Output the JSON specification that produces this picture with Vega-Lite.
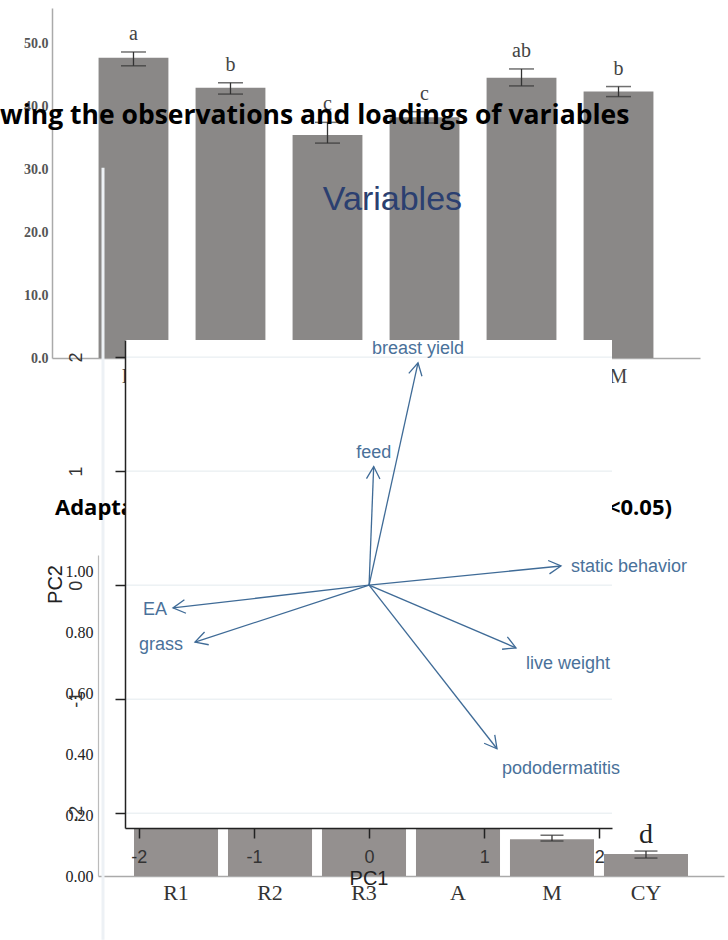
{
  "$schema": "https://vega.github.io/schema/vega-lite/v6.json",
  "width": 487,
  "height": 488,
  "autosize": {"type": "none"},
  "padding": {"left": 125, "top": 340, "right": 116, "bottom": 112},
  "background": "white",
  "config": {"view": {"stroke": null}},
  "layer": [
    {
      "data": {"values": [
        {"group": "R1", "value": 47.8, "lo": 46.5, "hi": 48.7, "letter": "a"},
        {"group": "R2", "value": 43.0, "lo": 42.0, "hi": 43.8, "letter": "b"},
        {"group": "R3", "value": 35.5, "lo": 34.2, "hi": 37.5, "letter": "c"},
        {"group": "A", "value": 38.3, "lo": 37.4, "hi": 39.2, "letter": "c"},
        {"group": "CY", "value": 44.6, "lo": 43.3, "hi": 46.0, "letter": "ab"},
        {"group": "M", "value": 42.4, "lo": 41.6, "hi": 43.2, "letter": "b"}
      ]},
      "layer": [
        {
          "mark": {"type": "bar", "color": "#8a8887"},
          "encoding": {
            "x": {"field": "group", "type": "nominal",
              "scale": {"domain": ["R1", "R2", "R3", "A", "CY", "M"], "range": [-73, 575], "paddingInner": 0.28, "paddingOuter": 0.48},
              "axis": {"orient": "bottom", "offset": -470, "title": null, "domainColor": "#aaaaaa", "domainWidth": 1.5, "ticks": false, "labelAngle": 0, "labelFont": "Liberation Serif", "labelFontSize": 20, "labelColor": "#444444", "labelPadding": 8, "grid": false}},
            "y": {"field": "value", "type": "quantitative",
              "scale": {"domain": [0, 55.7], "range": [18, -332], "nice": false, "zero": true},
              "axis": {"orient": "left", "offset": 73, "title": null, "values": [0, 10, 20, 30, 40, 50], "format": ".1f", "domainColor": "#aaaaaa", "domainWidth": 1.5, "ticks": false, "labelFont": "Liberation Serif", "labelFontWeight": "bold", "labelFontSize": 14, "labelColor": "#555555", "labelPadding": 4, "labelFlush": false, "labelOverlap": false, "grid": false}}
          }
        },
        {
          "mark": {"type": "rule", "color": "#333333", "strokeWidth": 1.3},
          "encoding": {
            "x": {"field": "group", "type": "nominal"},
            "y": {"field": "lo", "type": "quantitative"},
            "y2": {"field": "hi"}
          }
        },
        {
          "mark": {"type": "tick", "color": "#333333", "size": 25, "thickness": 1.5},
          "encoding": {
            "x": {"field": "group", "type": "nominal"},
            "y": {"field": "hi", "type": "quantitative"}
          }
        },
        {
          "mark": {"type": "tick", "color": "#333333", "size": 25, "thickness": 1.5},
          "encoding": {
            "x": {"field": "group", "type": "nominal"},
            "y": {"field": "lo", "type": "quantitative"}
          }
        },
        {
          "mark": {"type": "text", "font": "Liberation Serif", "fontSize": 20, "color": "#444444", "baseline": "alphabetic", "dy": -12},
          "encoding": {
            "x": {"field": "group", "type": "nominal"},
            "y": {"field": "hi", "type": "quantitative"},
            "text": {"field": "letter"}
          }
        }
      ]
    },
    {
      "data": {"values": [
        {"group": "R1", "value": 0.62, "lo": 0.60, "hi": 0.64, "letter": ""},
        {"group": "R2", "value": 0.48, "lo": 0.46, "hi": 0.50, "letter": ""},
        {"group": "R3", "value": 0.40, "lo": 0.38, "hi": 0.42, "letter": ""},
        {"group": "A", "value": 0.55, "lo": 0.53, "hi": 0.57, "letter": ""},
        {"group": "M", "value": 0.121, "lo": 0.115, "hi": 0.134, "letter": ""},
        {"group": "CY", "value": 0.072, "lo": 0.059, "hi": 0.082, "letter": "d"}
      ]},
      "layer": [
        {
          "mark": {"type": "bar", "color": "#94908f"},
          "encoding": {
            "x": {"field": "group", "type": "nominal",
              "scale": {"domain": ["R1", "R2", "R3", "A", "M", "CY"], "range": [-27, 599], "paddingInner": 0.106, "paddingOuter": 0.383},
              "axis": {"orient": "bottom", "offset": 48, "title": null, "domainColor": "#aaaaaa", "domainWidth": 1.5, "ticks": false, "labelAngle": 0, "labelFont": "Liberation Serif", "labelFontSize": 22, "labelColor": "#333333", "labelPadding": 6, "grid": false}},
            "y": {"field": "value", "type": "quantitative",
              "scale": {"domain": [0, 1.055], "range": [536, 215], "nice": false, "zero": true},
              "axis": {"orient": "left", "offset": 27, "title": null, "values": [0, 0.2, 0.4, 0.6, 0.8, 1.0], "format": ".2f", "domainColor": "#bbbbbb", "domainWidth": 1.2, "ticks": false, "labelFont": "Liberation Serif", "labelFontSize": 16, "labelColor": "#222222", "labelPadding": 5, "labelFlush": false, "labelOverlap": false, "grid": false}}
          }
        },
        {
          "mark": {"type": "rule", "color": "#333333", "strokeWidth": 1.3},
          "encoding": {
            "x": {"field": "group", "type": "nominal"},
            "y": {"field": "lo", "type": "quantitative"},
            "y2": {"field": "hi"}
          }
        },
        {
          "mark": {"type": "tick", "color": "#333333", "size": 23, "thickness": 1.5},
          "encoding": {
            "x": {"field": "group", "type": "nominal"},
            "y": {"field": "hi", "type": "quantitative"}
          }
        },
        {
          "mark": {"type": "tick", "color": "#333333", "size": 23, "thickness": 1.5},
          "encoding": {
            "x": {"field": "group", "type": "nominal"},
            "y": {"field": "lo", "type": "quantitative"}
          }
        },
        {
          "mark": {"type": "text", "font": "Liberation Serif", "fontSize": 28, "color": "#222222", "baseline": "alphabetic", "dy": -8},
          "encoding": {
            "x": {"field": "group", "type": "nominal"},
            "y": {"field": "hi", "type": "quantitative"},
            "text": {"field": "letter"}
          }
        }
      ]
    },
    {
      "data": {"values": [
        {"var": "breast yield", "x": 0.425, "y": 1.95},
        {"var": "feed", "x": 0.04, "y": 1.04},
        {"var": "static behavior", "x": 1.667, "y": 0.168},
        {"var": "live weight", "x": 1.276, "y": -0.55},
        {"var": "pododermatitis", "x": 1.111, "y": -1.435},
        {"var": "EA", "x": -1.703, "y": -0.20},
        {"var": "grass", "x": -1.512, "y": -0.50}
      ]},
      "layer": [
        {
          "data": {"values": [{}]},
          "mark": {"type": "rule", "color": "#edf1f5", "strokeWidth": 3},
          "encoding": {
            "x": {"datum": -2.311, "type": "quantitative"},
            "y": {"datum": 3.66, "type": "quantitative"},
            "y2": {"datum": -3.11}
          }
        },
        {
          "data": {"values": [{}]},
          "mark": {"type": "text", "text": "Adaptability", "font": "Open Sans", "fontWeight": "bold", "fontSize": 22, "color": "#000000", "align": "left", "baseline": "alphabetic"},
          "encoding": {
            "x": {"datum": -2.728, "type": "quantitative"},
            "y": {"datum": 0.616, "type": "quantitative"}
          }
        },
        {
          "data": {"values": [{}]},
          "mark": {"type": "text", "text": "(P<0.05)", "font": "Open Sans", "fontWeight": "bold", "fontSize": 22, "color": "#000000", "align": "right", "baseline": "alphabetic"},
          "encoding": {
            "x": {"datum": 2.631, "type": "quantitative"},
            "y": {"datum": 0.616, "type": "quantitative"}
          }
        },
        {
          "data": {"values": [{}]},
          "mark": {"type": "rect", "color": "white"},
          "encoding": {
            "x": {"datum": -2.12, "type": "quantitative"},
            "x2": {"datum": 2.11},
            "y": {"datum": -2.13, "type": "quantitative"},
            "y2": {"datum": 2.15}
          }
        },
        {
          "data": {"values": [{"v": -2}, {"v": -1}, {"v": 0}, {"v": 1}, {"v": 2}]},
          "mark": {"type": "rule", "color": "#e3eaee", "strokeWidth": 1},
          "encoding": {
            "y": {"field": "v", "type": "quantitative"},
            "x": {"datum": -2.12, "type": "quantitative"},
            "x2": {"datum": 2.11}
          }
        },
        {
          "mark": {"type": "rule", "color": "#3f6b97", "strokeWidth": 1.3},
          "encoding": {
            "x": {"field": "x", "type": "quantitative",
              "scale": {"domain": [-2.12, 2.11], "nice": false, "zero": false},
              "axis": {"orient": "bottom", "offset": 0, "values": [-2, -1, 0, 1, 2], "labelExpr": "'' + datum.value", "title": "PC1", "titleFont": "Liberation Sans", "titleFontSize": 20, "titleFontWeight": "normal", "titleColor": "#222222", "titlePadding": 2, "domainColor": "#222222", "domainWidth": 1.5, "tickColor": "#222222", "tickSize": 10, "tickWidth": 1.5, "labelAngle": 0, "labelFont": "Liberation Sans", "labelFontSize": 18, "labelColor": "#333333", "labelPadding": 10, "labelFlush": false, "labelOverlap": false, "grid": false, "zindex": 1}},
            "y": {"field": "y", "type": "quantitative",
              "scale": {"domain": [-2.13, 2.15], "nice": false, "zero": false},
              "axis": {"orient": "left", "offset": 0, "values": [-2, -1, 0, 1, 2], "labelExpr": "'' + datum.value", "title": "PC2", "titleFont": "Liberation Sans", "titleFontSize": 20, "titleFontWeight": "normal", "titleColor": "#222222", "titlePadding": 2, "domainColor": "#222222", "domainWidth": 1.5, "tickColor": "#222222", "tickSize": 10, "tickWidth": 1.5, "labelAngle": -90, "labelFont": "Liberation Sans", "labelFontSize": 18, "labelColor": "#333333", "labelPadding": 30, "labelFlush": false, "labelOverlap": false, "grid": false, "zindex": 1}},
            "x2": {"datum": 0},
            "y2": {"datum": 0}
          }
        },
        {
          "transform": [{"filter": "datum.var === 'breast yield'"}],
          "mark": {"type": "point", "shape": "M -1 -0.55 L 0 0 L -1 0.55", "filled": false, "stroke": "#3f6b97", "strokeWidth": 1.3, "size": 600, "opacity": 1, "angle": -77.6},
          "encoding": {"x": {"field": "x", "type": "quantitative"}, "y": {"field": "y", "type": "quantitative"}}
        },
        {
          "transform": [{"filter": "datum.var === 'feed'"}],
          "mark": {"type": "point", "shape": "M -1 -0.55 L 0 0 L -1 0.55", "filled": false, "stroke": "#3f6b97", "strokeWidth": 1.3, "size": 600, "opacity": 1, "angle": -87.8},
          "encoding": {"x": {"field": "x", "type": "quantitative"}, "y": {"field": "y", "type": "quantitative"}}
        },
        {
          "transform": [{"filter": "datum.var === 'static behavior'"}],
          "mark": {"type": "point", "shape": "M -1 -0.55 L 0 0 L -1 0.55", "filled": false, "stroke": "#3f6b97", "strokeWidth": 1.3, "size": 600, "opacity": 1, "angle": -5.7},
          "encoding": {"x": {"field": "x", "type": "quantitative"}, "y": {"field": "y", "type": "quantitative"}}
        },
        {
          "transform": [{"filter": "datum.var === 'live weight'"}],
          "mark": {"type": "point", "shape": "M -1 -0.55 L 0 0 L -1 0.55", "filled": false, "stroke": "#3f6b97", "strokeWidth": 1.3, "size": 600, "opacity": 1, "angle": 23.1},
          "encoding": {"x": {"field": "x", "type": "quantitative"}, "y": {"field": "y", "type": "quantitative"}}
        },
        {
          "transform": [{"filter": "datum.var === 'pododermatitis'"}],
          "mark": {"type": "point", "shape": "M -1 -0.55 L 0 0 L -1 0.55", "filled": false, "stroke": "#3f6b97", "strokeWidth": 1.3, "size": 600, "opacity": 1, "angle": 52.0},
          "encoding": {"x": {"field": "x", "type": "quantitative"}, "y": {"field": "y", "type": "quantitative"}}
        },
        {
          "transform": [{"filter": "datum.var === 'EA'"}],
          "mark": {"type": "point", "shape": "M -1 -0.55 L 0 0 L -1 0.55", "filled": false, "stroke": "#3f6b97", "strokeWidth": 1.3, "size": 600, "opacity": 1, "angle": 173.4},
          "encoding": {"x": {"field": "x", "type": "quantitative"}, "y": {"field": "y", "type": "quantitative"}}
        },
        {
          "transform": [{"filter": "datum.var === 'grass'"}],
          "mark": {"type": "point", "shape": "M -1 -0.55 L 0 0 L -1 0.55", "filled": false, "stroke": "#3f6b97", "strokeWidth": 1.3, "size": 600, "opacity": 1, "angle": 161.9},
          "encoding": {"x": {"field": "x", "type": "quantitative"}, "y": {"field": "y", "type": "quantitative"}}
        },
        {
          "transform": [{"filter": "datum.var === 'breast yield' || datum.var === 'feed'"}],
          "mark": {"type": "text", "font": "Liberation Sans", "fontSize": 18, "color": "#4a719a", "align": "center", "baseline": "bottom", "dy": -5},
          "encoding": {
            "x": {"field": "x", "type": "quantitative"},
            "y": {"field": "y", "type": "quantitative"},
            "text": {"field": "var"}
          }
        },
        {
          "transform": [{"filter": "datum.var === 'static behavior'"}],
          "mark": {"type": "text", "font": "Liberation Sans", "fontSize": 18, "color": "#4a719a", "align": "left", "baseline": "middle", "dx": 10, "dy": 1},
          "encoding": {
            "x": {"field": "x", "type": "quantitative"},
            "y": {"field": "y", "type": "quantitative"},
            "text": {"field": "var"}
          }
        },
        {
          "transform": [{"filter": "datum.var === 'live weight'"}],
          "mark": {"type": "text", "font": "Liberation Sans", "fontSize": 18, "color": "#4a719a", "align": "left", "baseline": "top", "dx": 10, "dy": 7},
          "encoding": {
            "x": {"field": "x", "type": "quantitative"},
            "y": {"field": "y", "type": "quantitative"},
            "text": {"field": "var"}
          }
        },
        {
          "transform": [{"filter": "datum.var === 'pododermatitis'"}],
          "mark": {"type": "text", "font": "Liberation Sans", "fontSize": 18, "color": "#4a719a", "align": "left", "baseline": "top", "dx": 5, "dy": 11},
          "encoding": {
            "x": {"field": "x", "type": "quantitative"},
            "y": {"field": "y", "type": "quantitative"},
            "text": {"field": "var"}
          }
        },
        {
          "transform": [{"filter": "datum.var === 'EA'"}],
          "mark": {"type": "text", "font": "Liberation Sans", "fontSize": 18, "color": "#4a719a", "align": "right", "baseline": "middle", "dx": -6, "dy": 2},
          "encoding": {
            "x": {"field": "x", "type": "quantitative"},
            "y": {"field": "y", "type": "quantitative"},
            "text": {"field": "var"}
          }
        },
        {
          "transform": [{"filter": "datum.var === 'grass'"}],
          "mark": {"type": "text", "font": "Liberation Sans", "fontSize": 18, "color": "#4a719a", "align": "right", "baseline": "middle", "dx": -12, "dy": 3},
          "encoding": {
            "x": {"field": "x", "type": "quantitative"},
            "y": {"field": "y", "type": "quantitative"},
            "text": {"field": "var"}
          }
        },
        {
          "data": {"values": [{}]},
          "mark": {"type": "text", "text": "wing the observations and loadings of variables", "font": "Open Sans", "fontWeight": "bold", "fontSize": 26.5, "color": "#000000", "align": "left", "baseline": "alphabetic"},
          "encoding": {
            "x": {"datum": -3.206, "type": "quantitative"},
            "y": {"datum": 4.046, "type": "quantitative"}
          }
        },
        {
          "data": {"values": [{}]},
          "mark": {"type": "text", "text": "Variables", "font": "Liberation Sans", "fontSize": 34, "color": "#2b3f70", "align": "center", "baseline": "alphabetic"},
          "encoding": {
            "x": {"datum": 0.203, "type": "quantitative"},
            "y": {"datum": 3.291, "type": "quantitative"}
          }
        }
      ]
    }
  ],
  "resolve": {
    "scale": {"x": "independent", "y": "independent"},
    "axis": {"x": "independent", "y": "independent"}
  }
}
